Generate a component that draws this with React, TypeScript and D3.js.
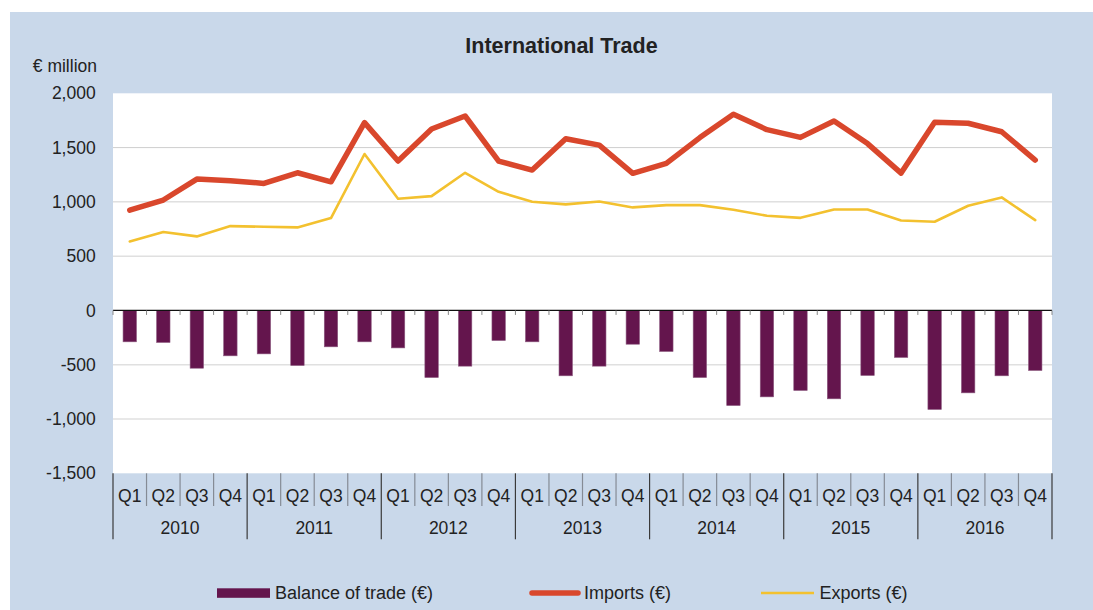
import React from "react";
import * as d3 from "d3";

const years = ["2010", "2011", "2012", "2013", "2014", "2015", "2016"];
const quarters = ["Q1", "Q2", "Q3", "Q4"];
const imports = [
  924, 1017, 1210, 1195, 1170, 1268, 1185, 1730,
  1376, 1671, 1791, 1376, 1293, 1582, 1523, 1263,
  1355, 1592, 1806, 1665, 1594, 1745, 1537, 1265,
  1733, 1724, 1646, 1385,
];
const exports = [
  636, 722, 682, 777, 771, 765, 851, 1441,
  1029, 1053, 1268, 1093, 1001, 977, 1004, 949,
  970, 970, 927, 872, 853, 930, 930, 829,
  817, 964, 1041, 832,
];
const balance = [
  -289, -295, -532, -418, -400, -507, -335, -289,
  -345, -618, -513, -277, -289, -602, -513, -311,
  -378, -618, -876, -796, -737, -814, -599, -433,
  -912, -759, -602, -553,
];
const yTicks = [-1500, -1000, -500, 0, 500, 1000, 1500, 2000];

const FONT = "'Liberation Sans', Arial, sans-serif";

export default function App() {
  const W = 1093, H = 610;
  const left = 113, right = 1052, top = 93.3, bottom = 473.3;
  const n = imports.length;
  const idx = d3.range(n);
  const x = d3.scaleBand<number>().domain(idx).range([left, right]).padding(0);
  const bw = x.bandwidth();
  const y = d3.scaleLinear().domain([-1500, 2000]).range([bottom, top]);
  const cx = (i: number) => (x(i) as number) + bw / 2;
  const line = d3.line<number>().x((_, i) => cx(i)).y((d) => y(d));
  const fmt = (v: number) => d3.format(",")(v).replace("\u2212", "-");
  const barW = bw * 0.4;
  const qRowBottom = 506;
  const yRowBottom = 539.3;

  return (
    <svg width={W} height={H} style={{ position: "absolute", left: 0, top: 0 }} fontFamily={FONT}>
      <rect x={0} y={0} width={W} height={H} fill="#ffffff" />
      <rect x={10} y={12} width={W - 10} height={H - 12} fill="#c9d8ea" />
      <rect x={left} y={top} width={right - left} height={bottom - top} fill="#ffffff" />
      {/* gridlines */}
      {yTicks.filter((t) => t !== 0 && t !== 2000 && t !== -1500).map((t) => (
        <line key={t} x1={left} x2={right} y1={y(t)} y2={y(t)} stroke={t > 500 ? "#cfcfcf" : "#e0e0e0"} strokeWidth={t > 500 ? 1 : 1.5} />
      ))}
      {/* bars */}
      {balance.map((v, i) => (
        <rect key={i} x={cx(i) - barW / 2} y={y(0)} width={barW} height={y(v) - y(0)} fill="#64154d" stroke="#8d5a80" strokeWidth={0.6} />
      ))}
      {/* zero line */}
      <line x1={left} x2={right} y1={y(0)} y2={y(0)} stroke="#111" strokeWidth={1.2} />
      {d3.range(n + 1).map((i) => {
        const xx = left + i * bw;
        return <line key={i} x1={xx} x2={xx} y1={y(0)} y2={y(0) + 4.5} stroke="#888" strokeWidth={1} />;
      })}
      {/* lines */}
      <path d={line(exports) || ""} fill="none" stroke="#f3c12f" strokeWidth={2.6} strokeLinejoin="round" strokeLinecap="round" />
      <path d={line(imports) || ""} fill="none" stroke="#d9472c" strokeWidth={5.5} strokeLinejoin="round" strokeLinecap="round" />
      {/* y axis labels */}
      {yTicks.map((t) => (
        <text key={t} x={95.7} y={y(t)} dy="0.35em" textAnchor="end" fontSize={17.5} fill="#222">
          {fmt(t)}
        </text>
      ))}
      <text x={97} y={71.5} textAnchor="end" fontSize={17.5} fill="#222">€ million</text>
      {/* title */}
      <text x={561.5} y={53.3} textAnchor="middle" fontSize={21.5} fontWeight="bold" fill="#222">International Trade</text>
      {/* category axis */}
      {d3.range(n + 1).map((i) => {
        const xx = left + i * bw;
        const isYear = i % 4 === 0;
        return (
          <line key={"s" + i} x1={xx} x2={xx} y1={bottom} y2={isYear ? yRowBottom : qRowBottom} stroke={isYear ? "#3a3a3a" : "#858b95"} strokeWidth={1.2} />
        );
      })}
      {idx.map((i) => (
        <text key={"q" + i} x={cx(i)} y={501.5} textAnchor="middle" fontSize={17.5} fill="#222">
          {quarters[i % 4]}
        </text>
      ))}
      {years.map((yr, k) => (
        <text key={yr} x={left + (k * 4 + 2) * bw} y={534} textAnchor="middle" fontSize={17.5} fill="#222">
          {yr}
        </text>
      ))}
      {/* legend */}
      <rect x={217} y={588.3} width={53} height={9.5} fill="#64154d" />
      <text x={275} y={599} fontSize={18} fill="#222">Balance of trade (€)</text>
      <line x1={532} x2={578} y1={593} y2={593} stroke="#d9472c" strokeWidth={5.5} strokeLinecap="round" />
      <text x={584} y={599} fontSize={18} fill="#222">Imports (€)</text>
      <line x1={761} x2={814} y1={593} y2={593} stroke="#f3c12f" strokeWidth={2.6} />
      <text x={819.5} y={599} fontSize={18} fill="#222">Exports (€)</text>
    </svg>
  );
}
